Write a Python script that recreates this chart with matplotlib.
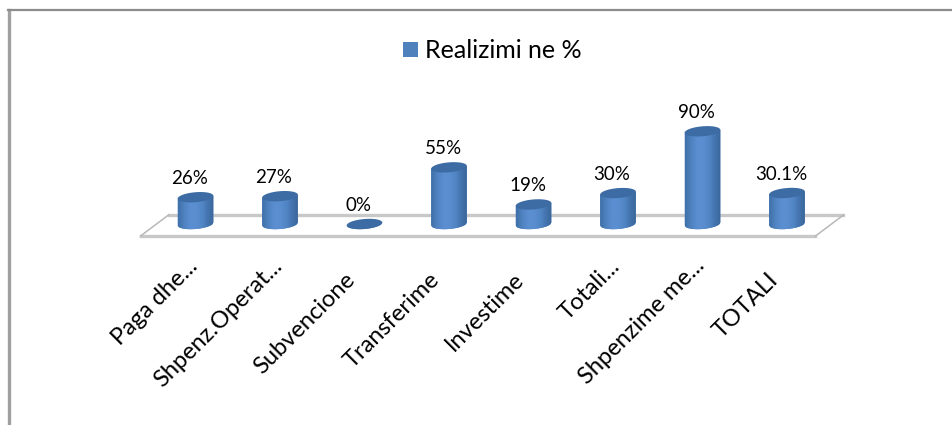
import numpy as np
import matplotlib
matplotlib.use('Agg')
import matplotlib.pyplot as plt

categories = ['Paga dhe...', 'Shpenz.Operat...', 'Subvencione', 'Transferime',
              'Investime', 'Totali...', 'Shpenzime me...', 'TOTALI']
values = [26, 27, 0, 55, 19, 30, 90, 30.1]
labels = ['26%', '27%', '0%', '55%', '19%', '30%', '90%', '30.1%']
series_name = 'Realizimi ne %'

plt.rcParams['font.family'] = ['Lato', 'DejaVu Sans']

W, H = 952, 425
fig = plt.figure(figsize=(W / 100, H / 100), dpi=100)

# axes sized so one category = 84.5 px and one percent = 1.03 px
left, base = 195.5, 224
px_x, px_y = 84.5, 1.03
ax = fig.add_axes([0, 0, 1, 1])
ax.axis('off')


def to_data(x, y, dx, dy):
    return x + np.asarray(dx) / px_x, y + np.asarray(dy) / px_y


# frame: left and top only, top runs off the right edge
fig.add_artist(plt.Line2D([9, 9], [0, H - 10], transform=None, color='#a0a0a0', lw=2.4))
fig.add_artist(plt.Line2D([8, W], [H - 10, H - 10], transform=None, color='#8c8c8c', lw=1.6))

# floor
ax.plot(*to_data(0, 0, [-55, 620], [-12, -12]), color='#c8c8c8', lw=2.4, zorder=1)
ax.plot(*to_data(0, 0, [-27, 648], [9, 9]), color='#c8c8c8', lw=2.4, zorder=1)
ax.plot(*to_data(0, 0, [-55, -27], [-12, 9]), color='#b8b8b8', lw=1.1, zorder=1)
ax.plot(*to_data(0, 0, [620, 648], [-12, 9]), color='#b8b8b8', lw=1.1, zorder=1)

rx, ry, tilt = 17.8, 5.0, 0.08
t = np.linspace(0, 2 * np.pi, 120)
ex = rx * np.cos(t)
ey = ry * np.sin(t) + tilt * ex
cmap = matplotlib.colors.LinearSegmentedColormap.from_list(
    'cyl', ['#3f70a8', '#4f82c0', '#5a8ed0', '#5a8ed0', '#5287c6', '#4575b0', '#3a6699'])

for i, v in enumerate(values):
    h = v * px_y
    side = np.linspace(-rx, rx, 40)
    low = -np.sqrt(np.clip(1 - (side / rx) ** 2, 0, 1)) * ry + tilt * side
    px = np.r_[side, side[::-1]]
    py = np.r_[low, (h + tilt * side)[::-1]]
    dx, dy = to_data(i, 0, px, py)
    poly = ax.fill(dx, dy, color='#4f81bd', lw=0, zorder=3)[0]
    if h > 0:
        im = ax.imshow(np.linspace(0, 1, 64).reshape(1, -1), cmap=cmap, aspect='auto',
                       extent=[i - rx / px_x, i + rx / px_x, -ry / px_y - 2, v + ry / px_y],
                       zorder=3.1)
        im.set_clip_path(poly)
    tx, ty = to_data(i, v, ex, ey)
    ax.fill(tx, ty, color='#3d6ba3', lw=0, zorder=4)
    ax.annotate(labels[i], (i, v), xytext=(-6, 10), textcoords='offset pixels',
                ha='center', va='bottom', fontsize=13.5, color='black', zorder=5)
    # truncated labels sit a bit further up and right in the original
    offset = (-9, -31) if categories[i].endswith('...') else (-20, -45)
    ax.annotate(categories[i], (i, 0), xytext=offset, textcoords='offset pixels',
                ha='right', va='top', rotation=45, rotation_mode='anchor',
                fontsize=17, color='black', zorder=5)

ax.set_xlim(-left / px_x, (W - left) / px_x)
ax.set_ylim(-(H - base) / px_y, base / px_y)

# legend
fig.text(425 / W, 1 - 51 / H, series_name, fontsize=18, ha='left', va='center', color='black')
fig.add_artist(plt.Rectangle((403 / W, 1 - 57 / H), 15 / W, 15 / H, transform=fig.transFigure,
                             facecolor='#4f81bd', edgecolor='none'))

fig.savefig('out.png', dpi=100)
